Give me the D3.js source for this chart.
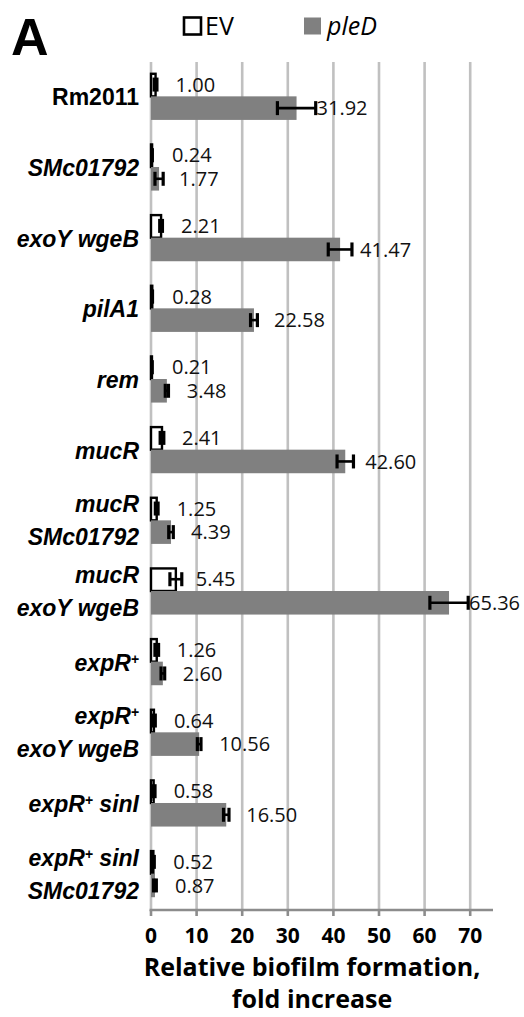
<!DOCTYPE html>
<html>
<head>
<meta charset="utf-8">
<script src="https://cdn.jsdelivr.net/npm/d3@7"></script>
<style>
  html, body { margin: 0; padding: 0; background: #fff; }
  svg { display: block; }
</style>
</head>
<body>
<svg id="chart" width="524" height="1017"></svg>
<script>
// ---- data ----
const categories = [
  "Rm2011", "SMc01792", "exoY wgeB", "pilA1", "rem", "mucR",
  "mucR|SMc01792", "mucR|exoY wgeB", "expR+", "expR+|exoY wgeB",
  "expR+ sinI", "expR+ sinI|SMc01792"
];
const seriesNames = ["EV", "pleD"];
const evValues   = [1.00, 0.24, 2.21, 0.28, 0.21, 2.41, 1.25, 5.45, 1.26, 0.64, 0.58, 0.52];
const pledValues = [31.92, 1.77, 41.47, 22.58, 3.48, 42.60, 4.39, 65.36, 2.60, 10.56, 16.50, 0.87];
const evErrors   = [0.3, 0.05, 0.3, 0.05, 0.05, 0.4, 0.3, 1.3, 0.4, 0.3, 0.3, 0.2];
const pledErrors = [4.2, 0.9, 2.6, 0.75, 0.35, 1.8, 0.5, 4.2, 0.4, 0.4, 0.6, 0.3];
const xTicks = [0, 10, 20, 30, 40, 50, 60, 70];
const valueLabels = [
  ["1.00","0.24","2.21","0.28","0.21","2.41","1.25","5.45","1.26","0.64","0.58","0.52"],
  ["31.92","1.77","41.47","22.58","3.48","42.60","4.39","65.36","2.60","10.56","16.50","0.87"]
];

// ---- layout ----
const svg = d3.select("#chart");
const x = d3.scaleLinear().domain([0, 75]).range([151, 493]);
const y = d3.scaleBand().domain(categories).range([61, 909]).paddingInner(0.333).paddingOuter(0.1667);
const ySub = d3.scaleBand().domain(seriesNames).range([0, y.bandwidth()]);
const fills = { EV: "#ffffff", pleD: "#808080" };
const strokes = { EV: "#000000", pleD: "none" };

const rows = categories.map((c, i) => ({
  cat: c,
  bars: [
    { s: "EV", v: evValues[i], e: evErrors[i], label: valueLabels[0][i] },
    { s: "pleD", v: pledValues[i], e: pledErrors[i], label: valueLabels[1][i] }
  ]
}));

// gridlines
svg.append("g").selectAll("line").data(xTicks).join("line")
  .attr("x1", d => x(d)).attr("x2", d => x(d))
  .attr("y1", 62).attr("y2", 909)
  .attr("stroke", "#c0c0c0").attr("stroke-width", 2.6);

// bars
const g = svg.append("g").selectAll("g").data(rows).join("g")
  .attr("transform", d => `translate(0,${y(d.cat)})`);

g.selectAll("rect").data(d => d.bars).join("rect")
  .attr("x", x(0))
  .attr("y", d => ySub(d.s) + (d.s === "EV" ? 1 : 0))
  .attr("width", d => x(d.v) - x(0))
  .attr("height", d => ySub.bandwidth() - (d.s === "EV" ? 1 : 0))
  .attr("fill", d => fills[d.s])
  .attr("stroke", d => strokes[d.s])
  .attr("stroke-width", 2.4);

// error bars
const eb = g.selectAll("g.err").data(d => d.bars).join("g").attr("class", "err");
eb.append("line")
  .attr("x1", d => x(d.v - d.e)).attr("x2", d => x(d.v + d.e))
  .attr("y1", d => ySub(d.s) + ySub.bandwidth() / 2)
  .attr("y2", d => ySub(d.s) + ySub.bandwidth() / 2)
  .attr("stroke", "#000").attr("stroke-width", 2.6);
eb.selectAll("line.cap").data(d => [
    { xv: d.v - d.e, s: d.s }, { xv: d.v + d.e, s: d.s }
  ]).join("line").attr("class", "cap")
  .attr("x1", d => x(d.xv)).attr("x2", d => x(d.xv))
  .attr("y1", d => ySub(d.s) + ySub.bandwidth() / 2 - 7)
  .attr("y2", d => ySub(d.s) + ySub.bandwidth() / 2 + 7)
  .attr("stroke", "#000").attr("stroke-width", 3.2);

// value labels
g.selectAll("text.val").data(d => d.bars).join("text").attr("class", "val")
  .attr("x", d => x(d.v) + 20)
  .attr("y", d => ySub(d.s) + ySub.bandwidth() / 2)
  .attr("dy", "0.36em")
  .attr("font-family", "'Open Sans', sans-serif")
  .attr("font-size", 20)
  .attr("fill", "#111")
  .text(d => d.label);

// category labels
function addLine(textSel, str) {
  const parts = str.split("+");
  parts.forEach((p, k) => {
    if (p.length) textSel.append("tspan").text(p);
    if (k < parts.length - 1) {
      textSel.append("tspan").attr("font-size", 14).attr("baseline-shift", "50%").text("+");
    }
  });
}
categories.forEach(c => {
  const lines = c.split("|");
  const cy = y(c) + y.bandwidth() / 2;
  lines.forEach((ln, k) => {
    const off = lines.length === 1 ? 9 : (k === 0 ? -8 : 25);
    const t = svg.append("text")
      .attr("x", 139)
      .attr("y", cy + off)
      .attr("text-anchor", "end")
      .attr("font-family", "'Liberation Sans', Arial, sans-serif")
      .attr("font-weight", "bold")
      .attr("font-style", c === "Rm2011" ? "normal" : "italic")
      .attr("font-size", 23)
      .attr("fill", "#000");
    addLine(t, ln);
  });
});

// x axis
const axisG = svg.append("g").attr("transform", "translate(0,910)");
axisG.append("line")
  .attr("x1", x(0) - 1.5).attr("x2", x(75))
  .attr("y1", 0).attr("y2", 0)
  .attr("stroke", "#8c8c8c").attr("stroke-width", 2.6);
axisG.selectAll("line.tick").data(xTicks).join("line").attr("class", "tick")
  .attr("x1", d => x(d)).attr("x2", d => x(d))
  .attr("y1", 0).attr("y2", 6)
  .attr("stroke", "#8c8c8c").attr("stroke-width", 2.6);
axisG.selectAll("text").data(xTicks).join("text")
  .attr("x", d => x(d)).attr("y", 33)
  .attr("text-anchor", "middle")
  .attr("font-family", "'Open Sans', sans-serif")
  .attr("font-weight", "bold")
  .attr("font-size", 21)
  .attr("fill", "#000")
  .text(d => d);

// axis title
["Relative biofilm formation,", "fold increase"].forEach((t, k) => {
  svg.append("text")
    .attr("x", 312).attr("y", 976 + k * 32)
    .attr("text-anchor", "middle")
    .attr("font-family", "'Open Sans', sans-serif")
    .attr("font-weight", "bold")
    .attr("font-size", 25)
    .attr("fill", "#000")
    .text(t);
});

// panel letter
svg.append("text")
  .attr("x", 11).attr("y", 55)
  .attr("font-family", "'Liberation Sans', Arial, sans-serif")
  .attr("font-weight", "bold")
  .attr("font-size", 52)
  .attr("fill", "#000")
  .text("A");

// legend
const legend = [
  { s: "EV", x: 184, tx: 205, italic: false },
  { s: "pleD", x: 304, tx: 327, italic: true }
];
legend.forEach(l => {
  svg.append("rect")
    .attr("x", l.x).attr("y", 17.5).attr("width", 17).attr("height", 17)
    .attr("fill", fills[l.s])
    .attr("stroke", l.s === "EV" ? "#000" : "none")
    .attr("stroke-width", 2.6);
  svg.append("text")
    .attr("x", l.tx).attr("y", 35)
    .attr("font-family", "'Open Sans', sans-serif")
    .attr("font-style", l.italic ? "italic" : "normal")
    .attr("font-size", 25)
    .attr("fill", "#000")
    .text(l.s);
});
</script>
</body>
</html>
